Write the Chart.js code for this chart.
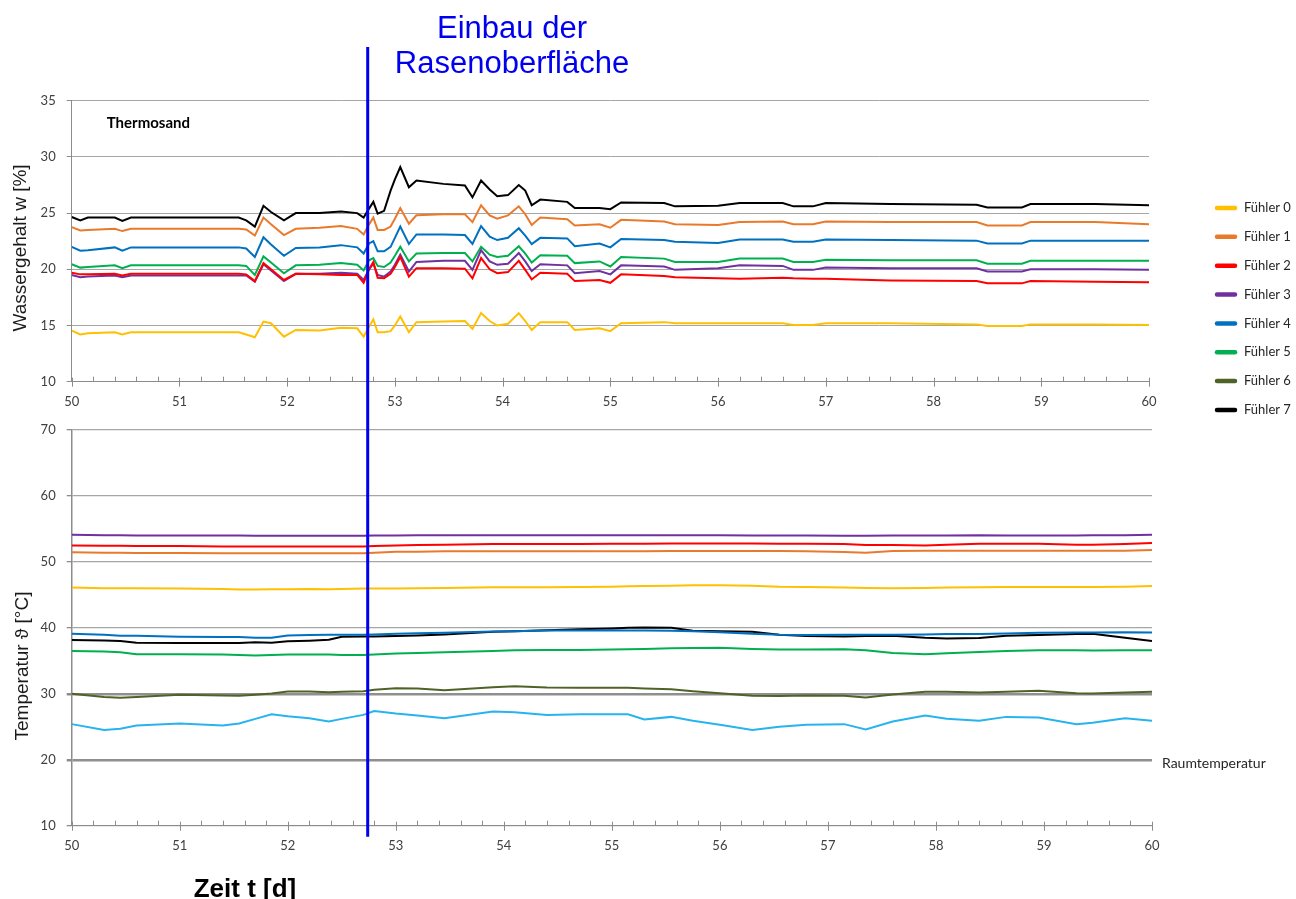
<!DOCTYPE html>
<html lang="de">
<head>
<meta charset="utf-8">
<title>Thermosand – Wassergehalt und Temperatur</title>
<script src="https://cdn.jsdelivr.net/npm/chart.js@4.4.1/dist/chart.umd.min.js"></script>
<style>
  html, body { margin: 0; padding: 0; background: #fff; }
  #wrap { position: relative; width: 1296px; height: 899px; overflow: hidden; }
  #wrap canvas { position: absolute; left: 0; top: 0; }
</style>
</head>
<body>
<div id="wrap">
  <canvas id="water" width="1296" height="899"></canvas>
  <canvas id="temp" width="1296" height="899"></canvas>
</div>
<script>
// sensor names and colours (Fühler 0..7)
const sensorNames = ['Fühler 0', 'Fühler 1', 'Fühler 2', 'Fühler 3', 'Fühler 4', 'Fühler 5', 'Fühler 6', 'Fühler 7']
const sensorColors = ['#ffc000', '#e97a2c', '#ff0000', '#7030a0', '#0070c0', '#00b050', '#4f6228', '#000000']
const roomColor = '#27b4ee'
const installDay = 52.74 // turf installed

// water content, days 50..60
const tWater = [50.0, 50.08, 50.15, 50.4, 50.47, 50.55, 51.55, 51.62, 51.7, 51.78, 51.85, 51.97, 52.08, 52.3, 52.5, 52.65, 52.71, 52.76, 52.8, 52.84, 52.9, 52.96, 53.0, 53.05, 53.13, 53.2, 53.45, 53.65, 53.72, 53.8, 53.88, 53.95, 54.05, 54.15, 54.21, 54.27, 54.35, 54.6, 54.67, 54.9, 55.0, 55.1, 55.5, 55.6, 56.0, 56.2, 56.6, 56.7, 56.88, 57.0, 57.6, 58.4, 58.5, 58.82, 58.9, 59.5, 60.0]
const water0 = [14.55, 14.2, 14.3, 14.4, 14.2, 14.4, 14.4, 14.2, 13.95, 15.35, 15.2, 14.0, 14.6, 14.55, 14.8, 14.75, 14.0, 14.9, 15.55, 14.4, 14.4, 14.5, 15.0, 15.8, 14.4, 15.3, 15.35, 15.4, 14.7, 16.1, 15.4, 15.0, 15.15, 16.1, 15.4, 14.6, 15.3, 15.3, 14.6, 14.75, 14.5, 15.2, 15.3, 15.2, 15.2, 15.2, 15.2, 15.05, 15.05, 15.2, 15.2, 15.1, 14.95, 14.95, 15.1, 15.1, 15.05]
const water1 = [23.75, 23.45, 23.5, 23.6, 23.4, 23.6, 23.6, 23.55, 23.0, 24.6, 24.0, 23.05, 23.6, 23.7, 23.85, 23.6, 23.1, 24.0, 24.6, 23.5, 23.5, 23.8, 24.5, 25.45, 24.05, 24.8, 24.9, 24.9, 24.2, 25.7, 24.8, 24.5, 24.8, 25.6, 24.9, 23.95, 24.6, 24.45, 23.9, 24.0, 23.7, 24.4, 24.25, 24.0, 23.95, 24.2, 24.25, 24.0, 24.0, 24.25, 24.2, 24.2, 23.9, 23.9, 24.2, 24.2, 24.0]
const water2 = [19.7, 19.55, 19.55, 19.6, 19.45, 19.6, 19.6, 19.55, 18.95, 20.55, 20.0, 19.05, 19.6, 19.55, 19.5, 19.5, 18.8, 20.0, 20.65, 19.25, 19.2, 19.6, 20.2, 21.1, 19.35, 20.1, 20.1, 20.05, 19.2, 21.0, 20.0, 19.65, 19.75, 20.75, 19.95, 19.1, 19.7, 19.6, 18.95, 19.05, 18.8, 19.55, 19.4, 19.3, 19.2, 19.15, 19.25, 19.2, 19.15, 19.15, 19.0, 18.95, 18.75, 18.75, 18.95, 18.9, 18.85]
const water3 = [19.5, 19.3, 19.35, 19.45, 19.3, 19.45, 19.45, 19.45, 18.9, 20.45, 19.9, 18.95, 19.6, 19.6, 19.7, 19.6, 19.05, 20.0, 20.5, 19.5, 19.35, 19.8, 20.4, 21.3, 19.8, 20.65, 20.75, 20.75, 19.95, 21.7, 20.7, 20.4, 20.5, 21.45, 20.7, 19.85, 20.45, 20.35, 19.65, 19.85, 19.55, 20.35, 20.25, 19.95, 20.1, 20.35, 20.3, 19.95, 19.95, 20.15, 20.1, 20.1, 19.8, 19.8, 20.0, 20.0, 19.95]
const water4 = [22.0, 21.65, 21.7, 21.95, 21.65, 21.95, 21.95, 21.85, 21.1, 22.85, 22.2, 21.2, 21.9, 21.95, 22.15, 21.95, 21.4, 22.3, 22.5, 21.6, 21.6, 22.0, 22.8, 23.8, 22.25, 23.1, 23.1, 23.05, 22.25, 23.85, 22.9, 22.6, 22.8, 23.65, 23.0, 22.25, 22.8, 22.75, 22.05, 22.3, 21.95, 22.7, 22.6, 22.45, 22.35, 22.65, 22.65, 22.45, 22.45, 22.65, 22.6, 22.55, 22.3, 22.3, 22.55, 22.55, 22.55]
const water5 = [20.45, 20.15, 20.2, 20.35, 20.1, 20.35, 20.35, 20.3, 19.5, 21.15, 20.6, 19.65, 20.35, 20.4, 20.55, 20.4, 19.9, 20.8, 21.0, 20.3, 20.2, 20.6, 21.2, 22.0, 20.7, 21.4, 21.45, 21.45, 20.7, 22.0, 21.3, 21.1, 21.2, 22.05, 21.4, 20.6, 21.25, 21.2, 20.55, 20.7, 20.25, 21.1, 20.95, 20.65, 20.65, 20.95, 20.95, 20.65, 20.65, 20.85, 20.8, 20.8, 20.5, 20.5, 20.75, 20.75, 20.75]
const water7 = [24.65, 24.35, 24.6, 24.6, 24.3, 24.6, 24.6, 24.35, 23.8, 25.65, 25.1, 24.35, 25.0, 25.0, 25.15, 25.0, 24.6, 25.4, 26.0, 24.95, 25.2, 27.0, 28.0, 29.1, 27.3, 27.9, 27.6, 27.45, 26.4, 27.9, 27.1, 26.5, 26.6, 27.5, 27.0, 25.7, 26.2, 26.0, 25.45, 25.45, 25.35, 25.95, 25.9, 25.6, 25.65, 25.9, 25.9, 25.6, 25.6, 25.9, 25.8, 25.75, 25.5, 25.5, 25.8, 25.8, 25.7]

// temperature, days 50..60
const tTemp = [50.0, 50.3, 50.45, 50.6, 51.0, 51.4, 51.55, 51.7, 51.85, 52.0, 52.2, 52.38, 52.5, 52.7, 52.8, 53.0, 53.2, 53.45, 53.9, 54.1, 54.4, 54.7, 55.0, 55.15, 55.3, 55.55, 55.75, 56.0, 56.3, 56.55, 56.8, 57.15, 57.35, 57.6, 57.9, 58.1, 58.4, 58.65, 58.95, 59.3, 59.45, 59.75, 60.0]
const temp0 = [46.1, 46.0, 46.0, 46.0, 45.95, 45.9, 45.8, 45.8, 45.85, 45.85, 45.9, 45.85, 45.9, 45.95, 45.95, 45.95, 46.0, 46.05, 46.15, 46.15, 46.15, 46.2, 46.25, 46.3, 46.35, 46.4, 46.45, 46.45, 46.4, 46.25, 46.2, 46.1, 46.05, 46.0, 46.05, 46.1, 46.15, 46.2, 46.2, 46.2, 46.2, 46.25, 46.35]
const temp1 = [51.45, 51.4, 51.4, 51.35, 51.35, 51.3, 51.3, 51.3, 51.3, 51.3, 51.3, 51.3, 51.3, 51.3, 51.4, 51.55, 51.55, 51.6, 51.6, 51.6, 51.6, 51.6, 51.6, 51.6, 51.6, 51.65, 51.65, 51.65, 51.65, 51.65, 51.6, 51.5, 51.4, 51.65, 51.7, 51.7, 51.7, 51.7, 51.7, 51.7, 51.7, 51.7, 51.8]
const temp2 = [52.5, 52.45, 52.45, 52.4, 52.4, 52.35, 52.35, 52.35, 52.35, 52.35, 52.35, 52.35, 52.35, 52.35, 52.4, 52.5, 52.55, 52.6, 52.7, 52.7, 52.7, 52.7, 52.75, 52.75, 52.75, 52.8, 52.8, 52.8, 52.8, 52.75, 52.75, 52.7, 52.55, 52.55, 52.5, 52.6, 52.75, 52.75, 52.75, 52.6, 52.6, 52.7, 52.85]
const temp3 = [54.1, 54.05, 54.05, 54.0, 54.0, 54.0, 54.0, 53.95, 53.95, 53.95, 53.95, 53.95, 53.95, 53.95, 54.0, 54.0, 54.05, 54.05, 54.05, 54.05, 54.05, 54.05, 54.05, 54.05, 54.05, 54.05, 54.05, 54.05, 54.0, 54.0, 54.0, 53.95, 53.95, 54.0, 54.0, 54.0, 54.05, 54.0, 54.0, 54.0, 54.05, 54.05, 54.1]
const temp4 = [39.1, 38.95, 38.8, 38.8, 38.65, 38.6, 38.6, 38.5, 38.5, 38.85, 38.9, 38.95, 38.95, 38.95, 39.0, 39.1, 39.2, 39.25, 39.45, 39.5, 39.6, 39.6, 39.65, 39.6, 39.6, 39.55, 39.5, 39.35, 39.1, 38.95, 38.9, 38.95, 38.95, 38.95, 39.0, 39.05, 39.05, 39.15, 39.25, 39.3, 39.3, 39.35, 39.3]
const temp5 = [36.5, 36.4, 36.3, 36.0, 36.0, 35.95, 35.9, 35.8, 35.9, 35.95, 35.95, 35.95, 35.9, 35.9, 35.95, 36.1, 36.2, 36.3, 36.5, 36.6, 36.65, 36.65, 36.7, 36.75, 36.8, 36.9, 36.95, 37.0, 36.8, 36.7, 36.7, 36.75, 36.6, 36.2, 36.0, 36.15, 36.35, 36.5, 36.6, 36.6, 36.55, 36.6, 36.6]
const temp6 = [30.0, 29.5, 29.4, 29.5, 29.85, 29.75, 29.7, 29.85, 30.05, 30.35, 30.35, 30.25, 30.3, 30.4, 30.6, 30.85, 30.8, 30.55, 31.0, 31.15, 30.95, 30.9, 30.9, 30.9, 30.8, 30.7, 30.4, 30.1, 29.7, 29.65, 29.75, 29.7, 29.45, 29.9, 30.3, 30.3, 30.2, 30.3, 30.45, 30.1, 30.05, 30.2, 30.3]
const temp7 = [38.15, 38.1, 38.0, 37.75, 37.7, 37.7, 37.7, 37.8, 37.75, 37.95, 38.05, 38.2, 38.65, 38.7, 38.7, 38.75, 38.85, 39.0, 39.4, 39.5, 39.65, 39.8, 39.9, 40.0, 40.05, 40.0, 39.55, 39.5, 39.4, 38.95, 38.75, 38.7, 38.75, 38.8, 38.5, 38.4, 38.45, 38.8, 38.9, 39.05, 39.1, 38.5, 38.0]
const tempRoom = [25.4, 24.5, 24.7, 25.2, 25.5, 25.2, 25.5, 26.2, 26.9, 26.6, 26.3, 25.8, 26.2, 26.8, 27.4, 27.0, 26.7, 26.3, 27.3, 27.2, 26.8, 26.9, 26.9, 26.9, 26.1, 26.5, 25.9, 25.3, 24.5, 25.0, 25.3, 25.4, 24.6, 25.8, 26.7, 26.2, 25.9, 26.5, 26.4, 25.4, 25.6, 26.3, 25.9]

const waterTicks = [10, 15, 20, 25, 30, 35]
const tempTicks = [10, 20, 30, 40, 50, 60, 70]

const tickFont = { family: 'Lato, "Open Sans", sans-serif', size: 13 }
const tickColor = '#404040'
const axisGray = '#8c8c8c'
const gridGray = '#a6a6a6'

function toPoints(t, v) {
  return t.map((x, i) => ({ x: x, y: v[i] }))
}

function line(label, t, v, color) {
  return {
    label: label,
    data: toPoints(t, v),
    borderColor: color,
    backgroundColor: color,
    borderWidth: 2,
    pointRadius: 0,
    tension: 0,
    fill: false
  }
}

// small inward ticks every 0.2 d, longer ticks across the axis at full days
function drawDayTicks(chart) {
  const { ctx, scales: { x }, chartArea } = chart
  const yb = chartArea.bottom
  ctx.save()
  ctx.strokeStyle = axisGray
  ctx.lineWidth = 1
  for (let i = 0; i <= 50; i++) {
    const d = 50 + i * 0.2
    const px = Math.round(x.getPixelForValue(d)) + 0.5
    ctx.beginPath()
    if (i % 5 === 0) {
      ctx.moveTo(px, yb - 4)
      ctx.lineTo(px, yb + 5)
    } else {
      ctx.moveTo(px, yb - 5)
      ctx.lineTo(px, yb)
    }
    ctx.stroke()
  }
  ctx.restore()
}

function rotatedText(ctx, text, cx, cy, font, color) {
  ctx.save()
  ctx.translate(cx, cy)
  ctx.rotate(-Math.PI / 2)
  ctx.font = font
  ctx.fillStyle = color
  ctx.textAlign = 'center'
  ctx.textBaseline = 'middle'
  ctx.fillText(text, 0, 0)
  ctx.restore()
}

function xScale(rightPad) {
  return {
    type: 'linear',
    min: 50,
    max: 60,
    afterBuildTicks: s => { s.ticks = [50, 51, 52, 53, 54, 55, 56, 57, 58, 59, 60].map(v => ({ value: v })) },
    afterFit: s => { s.height = 30 },
    ticks: { font: tickFont, color: tickColor, padding: 12.5, maxRotation: 0, autoSkip: false },
    grid: { drawOnChartArea: false, drawTicks: false },
    border: { display: true, color: axisGray, width: 1 }
  }
}

// upper chart: water content
const waterDeco = {
  id: 'waterDeco',
  afterDraw(chart) {
    const ctx = chart.ctx
    drawDayTicks(chart)
    ctx.save()
    ctx.font = 'bold 15px Lato, sans-serif'
    ctx.fillStyle = '#000'
    ctx.textBaseline = 'middle'
    ctx.fillText('Thermosand', chart.chartArea.left + 35, chart.chartArea.top + 22)
    ctx.restore()
    rotatedText(ctx, 'Wassergehalt w [%]', 21, 248, '19px "Liberation Sans", Arial, sans-serif', '#1a1a1a')
  }
}

const waterSeries = [
  [0, water0], [1, water1], [2, water2], [3, water3], [4, water4], [5, water5], [7, water7]
]

new Chart(document.getElementById('water'), {
  type: 'line',
  data: {
    datasets: waterSeries.map(([k, v]) => line(sensorNames[k], tWater, v, sensorColors[k]))
  },
  options: {
    responsive: false,
    animation: false,
    layout: { padding: { left: 0, right: 147, top: 100.7, bottom: 899 - 381.7 - 30 } },
    plugins: { legend: { display: false }, tooltip: { enabled: false } },
    scales: {
      x: xScale(),
      y: {
        min: 10,
        max: 35,
        afterBuildTicks: s => { s.ticks = waterTicks.map(v => ({ value: v })) },
        afterFit: s => { s.width = 71.7 },
        ticks: { font: tickFont, color: tickColor, padding: 11 },
        grid: { color: gridGray, lineWidth: 1, tickLength: 5, tickColor: axisGray },
        border: { display: true, color: axisGray, width: 1 }
      }
    }
  },
  plugins: [waterDeco]
})

// lower chart: temperatures, plus the page texts, legend and the marker line
const tempDeco = {
  id: 'tempDeco',
  afterDraw(chart) {
    const { ctx, chartArea, scales: { x, y } } = chart
    drawDayTicks(chart)

    rotatedText(ctx, 'Temperatur ϑ [°C]', 23, 666, '19px "Liberation Sans", Arial, sans-serif', '#1a1a1a')

    ctx.save()
    ctx.font = '14px Lato, sans-serif'
    ctx.fillStyle = '#262626'
    ctx.textBaseline = 'middle'
    ctx.fillText('Raumtemperatur', chartArea.right + 10, y.getPixelForValue(20) + 4)

    // turf installation marker
    const px = x.getPixelForValue(installDay)
    ctx.strokeStyle = '#0000ee'
    ctx.lineWidth = 3
    ctx.beginPath()
    ctx.moveTo(px, 47)
    ctx.lineTo(px, chartArea.bottom + 11)
    ctx.stroke()

    ctx.fillStyle = '#0000ee'
    ctx.font = '31px "Liberation Sans", Arial, sans-serif'
    ctx.textAlign = 'center'
    ctx.textBaseline = 'alphabetic'
    ctx.fillText('Einbau der', 512, 37.5)
    ctx.fillText('Rasenoberfläche', 512, 73)

    ctx.fillStyle = '#000'
    ctx.font = 'bold 26px "Liberation Sans", Arial, sans-serif'
    ctx.fillText('Zeit t [d]', 245, 897)

    // legend
    ctx.textAlign = 'left'
    ctx.textBaseline = 'middle'
    ctx.font = '13px Lato, sans-serif'
    ctx.lineCap = 'round'
    sensorNames.forEach((name, i) => {
      const ly = 208 + i * 28.85
      ctx.strokeStyle = sensorColors[i]
      ctx.lineWidth = 4.5
      ctx.beginPath()
      ctx.moveTo(1217, ly)
      ctx.lineTo(1235, ly)
      ctx.stroke()
      ctx.fillStyle = '#262626'
      ctx.fillText(name, 1244, ly)
    })
    ctx.restore()
  }
}

const tempSeries = [
  [0, temp0], [1, temp1], [2, temp2], [3, temp3], [4, temp4], [5, temp5], [6, temp6], [7, temp7]
]

new Chart(document.getElementById('temp'), {
  type: 'line',
  data: {
    datasets: tempSeries.map(([k, v]) => line(sensorNames[k], tTemp, v, sensorColors[k]))
      .concat([line('Raumtemperatur', tTemp, tempRoom, roomColor)])
  },
  options: {
    responsive: false,
    animation: false,
    layout: { padding: { left: 0, right: 144, top: 430, bottom: 899 - 825.7 - 30 } },
    plugins: { legend: { display: false }, tooltip: { enabled: false } },
    scales: {
      x: xScale(),
      y: {
        min: 10,
        max: 70,
        afterBuildTicks: s => { s.ticks = tempTicks.map(v => ({ value: v })) },
        afterFit: s => { s.width = 71.7 },
        ticks: { font: tickFont, color: tickColor, padding: 11 },
        grid: {
          color: c => (c.tick && (c.tick.value === 20 || c.tick.value === 30)) ? '#8f8f8f' : gridGray,
          lineWidth: c => (c.tick && (c.tick.value === 20 || c.tick.value === 30)) ? 2.5 : 1.3,
          tickLength: 5,
          tickColor: axisGray
        },
        border: { display: true, color: axisGray, width: 1.5 }
      }
    }
  },
  plugins: [tempDeco]
})
</script>
</body>
</html>
